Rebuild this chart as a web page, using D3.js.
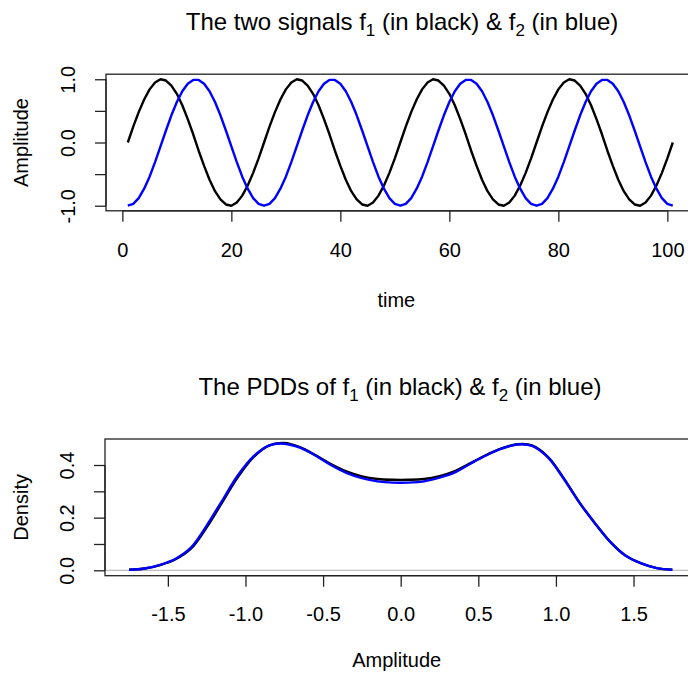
<!DOCTYPE html>
<html><head><meta charset="utf-8">
<script src="https://cdn.jsdelivr.net/npm/d3@7"></script>
<style>
html,body{margin:0;padding:0;background:#fff;}
text{font-family:"Liberation Sans",Arial,sans-serif;fill:#000;}
</style></head>
<body><svg id="chart" width="688" height="673"></svg>
<script>
// ---------- data ----------
// top panel: sampled signals at time = 1..101
const f1 = [
 0.00, 0.25, 0.48, 0.68, 0.84, 0.95, 1.00, 0.98, 0.90, 0.77, 0.59, 0.37, 0.13,-0.13,-0.37,-0.59,-0.77,-0.90,-0.98,-1.00,-0.95,-0.84,-0.68,-0.48,-0.25,
 0.00, 0.25, 0.48, 0.68, 0.84, 0.95, 1.00, 0.98, 0.90, 0.77, 0.59, 0.37, 0.13,-0.13,-0.37,-0.59,-0.77,-0.90,-0.98,-1.00,-0.95,-0.84,-0.68,-0.48,-0.25,
 0.00, 0.25, 0.48, 0.68, 0.84, 0.95, 1.00, 0.98, 0.90, 0.77, 0.59, 0.37, 0.13,-0.13,-0.37,-0.59,-0.77,-0.90,-0.98,-1.00,-0.95,-0.84,-0.68,-0.48,-0.25,
 0.00, 0.25, 0.48, 0.68, 0.84, 0.95, 1.00, 0.98, 0.90, 0.77, 0.59, 0.37, 0.13,-0.13,-0.37,-0.59,-0.77,-0.90,-0.98,-1.00,-0.95,-0.84,-0.68,-0.48,-0.25,
 0.00];
const f2 = [
-1.00,-0.97,-0.88,-0.73,-0.54,-0.31,-0.06, 0.19, 0.43, 0.64, 0.81, 0.93, 0.99, 0.99, 0.93, 0.81, 0.64, 0.43, 0.19,-0.06,-0.31,-0.54,-0.73,-0.88,-0.97,
-1.00,-0.97,-0.88,-0.73,-0.54,-0.31,-0.06, 0.19, 0.43, 0.64, 0.81, 0.93, 0.99, 0.99, 0.93, 0.81, 0.64, 0.43, 0.19,-0.06,-0.31,-0.54,-0.73,-0.88,-0.97,
-1.00,-0.97,-0.88,-0.73,-0.54,-0.31,-0.06, 0.19, 0.43, 0.64, 0.81, 0.93, 0.99, 0.99, 0.93, 0.81, 0.64, 0.43, 0.19,-0.06,-0.31,-0.54,-0.73,-0.88,-0.97,
-1.00,-0.97,-0.88,-0.73,-0.54,-0.31,-0.06, 0.19, 0.43, 0.64, 0.81, 0.93, 0.99, 0.99, 0.93, 0.81, 0.64, 0.43, 0.19,-0.06,-0.31,-0.54,-0.73,-0.88,-0.97,
-1.00];
const timeTicks = [0, 20, 40, 60, 80, 100];
const ampTicks = [-1, -0.5, 0, 0.5, 1];
const ampTickLabels = ["-1.0", "", "0.0", "", "1.0"];

// bottom panel: estimated densities
const densX = [-1.75,-1.65,-1.55,-1.45,-1.35,-1.25,-1.15,-1.05,-0.95,-0.85,-0.75,-0.65,-0.55,-0.45,-0.35,-0.25,-0.15,-0.05,
                0.05, 0.15, 0.25, 0.35, 0.45, 0.55, 0.65, 0.75, 0.85, 0.95, 1.05, 1.15, 1.25, 1.35, 1.45, 1.55, 1.65, 1.75];
const dens1 = [0.002,0.007,0.020,0.042,0.083,0.163,0.258,0.353,0.429,0.474,0.484,0.468,0.438,0.404,0.376,0.357,0.347,0.344,
               0.344,0.347,0.358,0.377,0.407,0.438,0.463,0.479,0.474,0.430,0.350,0.259,0.180,0.108,0.055,0.026,0.008,0.002];
const dens2 = [0.002,0.007,0.021,0.044,0.087,0.170,0.265,0.360,0.432,0.474,0.481,0.466,0.436,0.400,0.370,0.350,0.338,0.333,
               0.333,0.338,0.352,0.372,0.405,0.436,0.462,0.478,0.472,0.428,0.348,0.258,0.180,0.108,0.055,0.026,0.008,0.002];
const densXTicks = [-1.5, -1.0, -0.5, 0.0, 0.5, 1.0, 1.5];
const densYTicks = [0, 0.1, 0.2, 0.3, 0.4];
const densYTickLabels = ["0.0", "", "0.2", "", "0.4"];

// ---------- drawing ----------
const svg = d3.select("#chart");
const TICK = 11, FS = 20;

function panel(opt) {
  const g = svg.append("g");
  const x = d3.scaleLinear().domain(opt.xDomain).range([opt.left, opt.right]);
  const y = d3.scaleLinear().domain(opt.yDomain).range([opt.bottom, opt.top]);
  // title
  const t = g.append("text").attr("x", opt.titleX).attr("y", opt.titleY)
    .attr("text-anchor", "middle").style("font-size", "24px");
  opt.title.forEach(p => {
    const ts = t.append("tspan").text(p.s);
    if (p.sub) ts.attr("dy", 6).style("font-size", "17px");
    else if (p.after) ts.attr("dy", -6);
  });
  if (opt.extra) opt.extra(g, x, y);
  // series
  opt.series.forEach(s => {
    g.append("path").datum(s.data)
      .attr("fill", "none").attr("stroke", s.color).attr("stroke-width", 2.4)
      .attr("stroke-linejoin", "round")
      .attr("d", d3.line().x(d => x(d[0])).y(d => y(d[1])).curve(opt.curve || d3.curveLinear));
  });
  // box
  g.append("rect").attr("x", opt.left).attr("y", opt.top)
    .attr("width", opt.right - opt.left).attr("height", opt.bottom - opt.top)
    .attr("fill", "none").attr("stroke", "#222").attr("stroke-width", 1.3);
  // x axis
  const xa = g.append("g").attr("transform", `translate(0,${opt.bottom})`)
    .call(d3.axisBottom(x).tickValues(opt.xTicks).tickSize(TICK).tickPadding(0).tickFormat(opt.xFmt));
  xa.select(".domain").attr("d", `M${x(opt.xTicks[0])},0H${x(opt.xTicks[opt.xTicks.length-1])}`)
    .attr("stroke", "#222").attr("stroke-width", 1.3);
  xa.selectAll(".tick line").attr("stroke", "#222").attr("stroke-width", 1.3);
  xa.selectAll(".tick text").attr("dy", null).attr("y", opt.xLabY)
    .style("font-size", FS + "px").style("font-family", "Liberation Sans, Arial, sans-serif").attr("fill", "#000");
  // y axis
  const ya = g.append("g").attr("transform", `translate(${opt.left},0)`)
    .call(d3.axisLeft(y).tickValues(opt.yTicks).tickSize(TICK).tickPadding(0).tickFormat((d, i) => opt.yLabels[i]));
  ya.select(".domain").attr("d", `M0,${y(opt.yTicks[0])}V${y(opt.yTicks[opt.yTicks.length-1])}`)
    .attr("stroke", "#222").attr("stroke-width", 1.3);
  ya.selectAll(".tick line").attr("stroke", "#222").attr("stroke-width", 1.3);
  ya.selectAll(".tick text").attr("x", null).attr("dy", null)
    .attr("transform", "translate(-31,0) rotate(-90)").attr("text-anchor", "middle").attr("y", 0)
    .style("font-size", FS + "px").style("font-family", "Liberation Sans, Arial, sans-serif").attr("fill", "#000");
  // axis titles
  g.append("text").attr("x", (opt.left + opt.right) / 2 - (opt.right > 688 ? 4 : 0)).attr("y", opt.xTitleY)
    .attr("text-anchor", "middle").style("font-size", FS + "px").text(opt.xTitle);
  g.append("text").attr("transform", `translate(28,${(opt.top + opt.bottom) / 2}) rotate(-90)`)
    .attr("text-anchor", "middle").style("font-size", FS + "px").text(opt.yTitle);
}

panel({
  left: 106, right: 694.6, top: 74.2, bottom: 210.8,
  xDomain: [-3, 105], yDomain: [-1.08, 1.08],
  titleX: 402, titleY: 30,
  title: [{s: "The two signals f"}, {s: "1", sub: true}, {s: " (in black) & f", after: true}, {s: "2", sub: true}, {s: " (in blue)", after: true}],
  series: [
    {data: f1.map((v, i) => [i + 1, v]), color: "#000"},
    {data: f2.map((v, i) => [i + 1, v]), color: "#0000ff"}
  ],
  xTicks: timeTicks, xFmt: d => String(d), xLabY: 46,
  yTicks: ampTicks, yLabels: ampTickLabels,
  xTitle: "time", xTitleY: 306.5, yTitle: "Amplitude"
});

panel({
  left: 105, right: 696.4, top: 439, bottom: 575.7,
  xDomain: [-1.905, 1.905], yDomain: [-0.0205, 0.4988],
  titleX: 400, titleY: 395,
  title: [{s: "The PDDs of f"}, {s: "1", sub: true}, {s: " (in black) & f", after: true}, {s: "2", sub: true}, {s: " (in blue)", after: true}],
  series: [
    {data: densX.map((v, i) => [v, dens1[i]]), color: "#000"},
    {data: densX.map((v, i) => [v, dens2[i]]), color: "#0000ff"}
  ],
  curve: d3.curveCatmullRom.alpha(0.5),
  extra: (g, x, y) => {
    g.append("line").attr("x1", x(-1.905)).attr("x2", x(1.905)).attr("y1", y(0)).attr("y2", y(0))
      .attr("stroke", "#bebebe").attr("stroke-width", 1.2);
  },
  xTicks: densXTicks, xFmt: d => d3.format(".1f")(d).replace("−", "-"), xLabY: 45,
  yTicks: densYTicks, yLabels: densYTickLabels,
  xTitle: "Amplitude", xTitleY: 667, yTitle: "Density"
});
</script></body></html>
